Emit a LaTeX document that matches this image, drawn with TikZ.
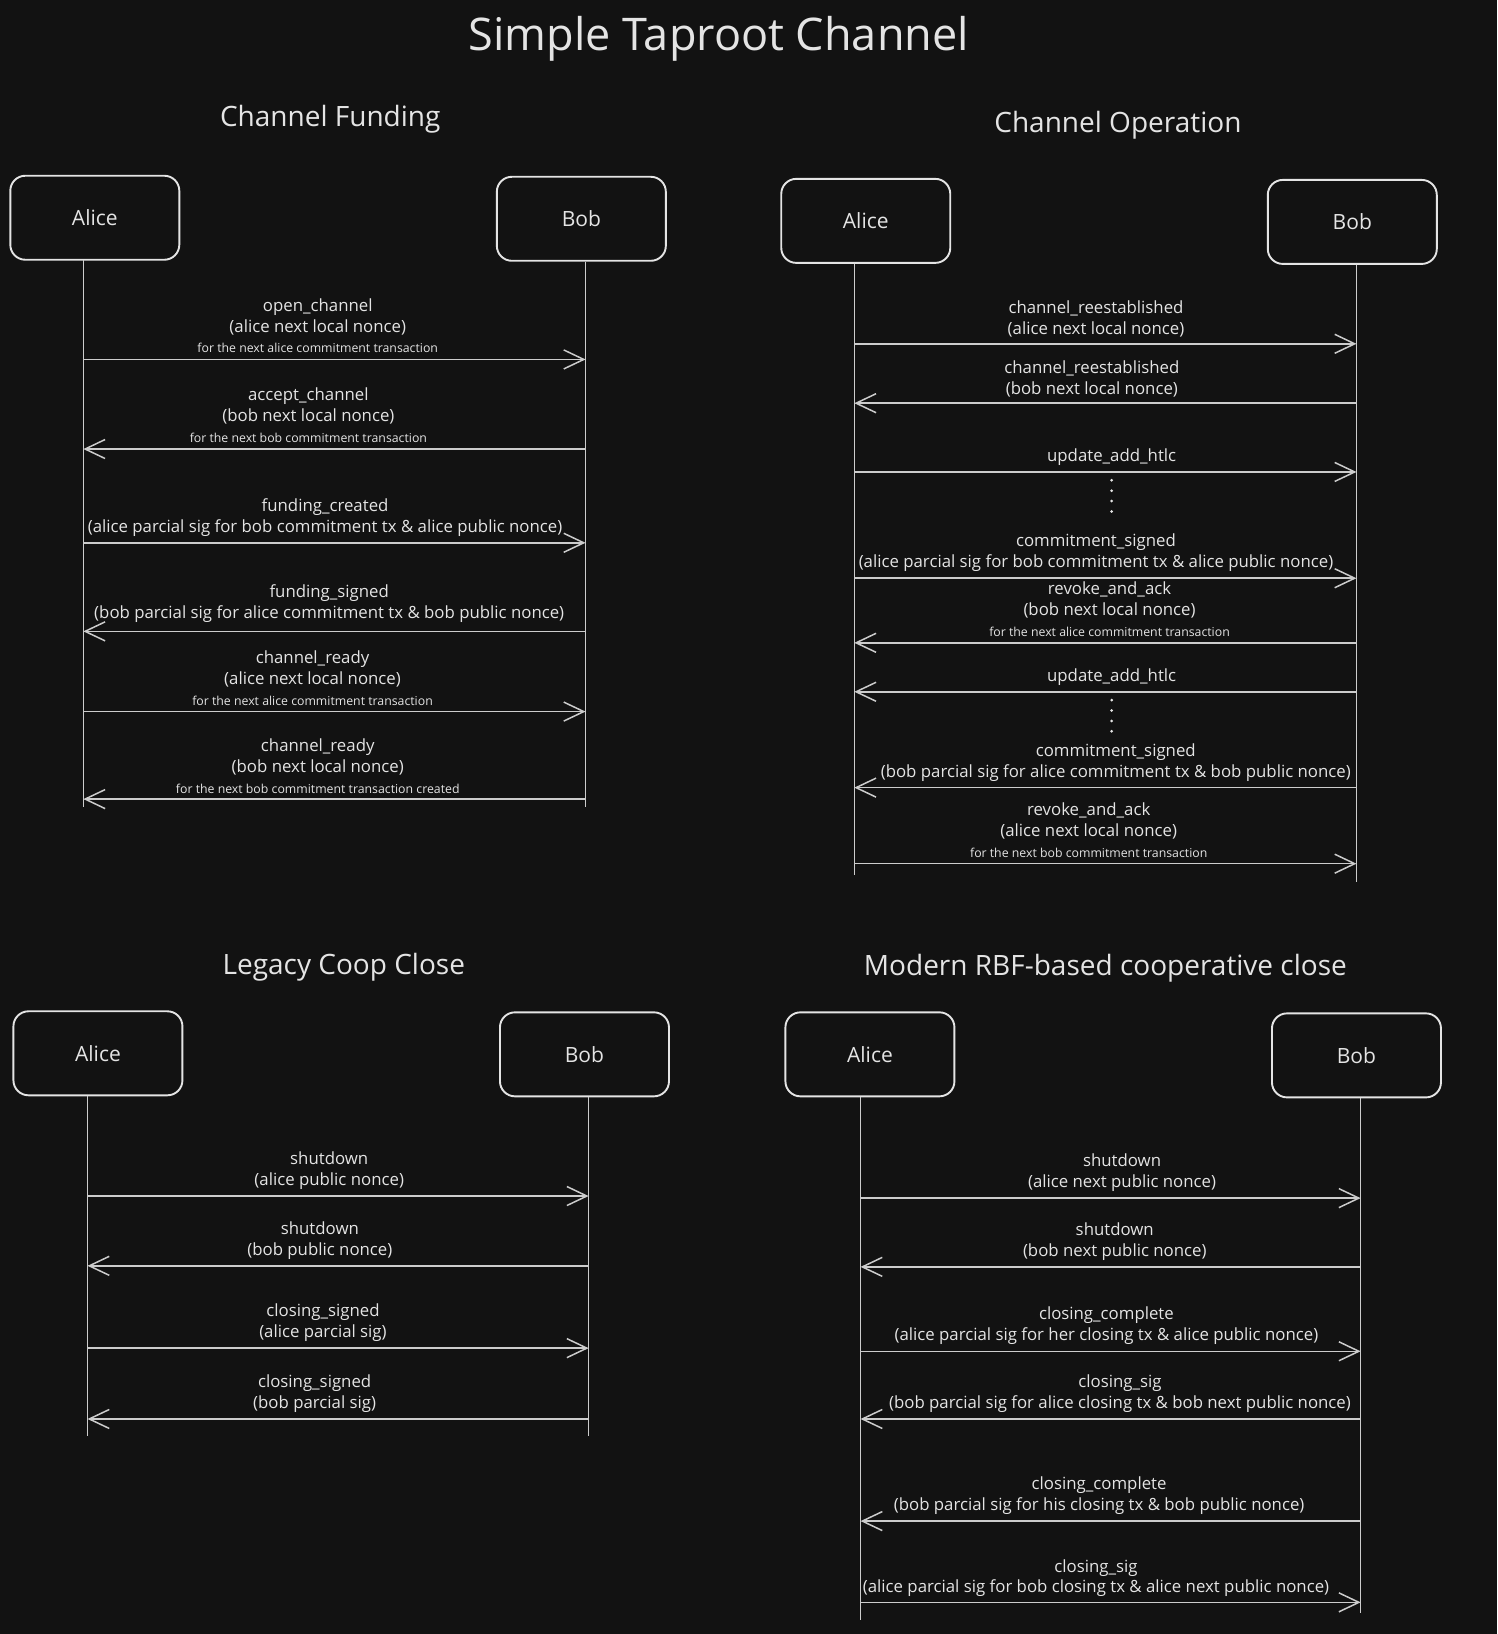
\documentclass[tikz,border=0pt]{standalone}
\usepackage{fontspec}
\setmainfont{Open Sans}
\usetikzlibrary{arrows.meta}
\definecolor{bg}{HTML}{121212}
\definecolor{ink}{HTML}{E4E4E4}
\definecolor{wire}{HTML}{CCCCCC}
\newcommand{\smallnote}[1]{{\fontsize{12.3}{14}\selectfont #1}}
\tikzset{
  headline/.style={text=ink, font=\fontsize{45}{54}\selectfont},
  sectitle/.style={text=ink, font=\fontsize{28}{34}\selectfont},
  actor/.style={draw=ink, line width=1.9pt, rounded corners=15pt, minimum width=169pt, minimum height=84pt, text=ink, font=\fontsize{21}{25}\selectfont},
  lifeline/.style={draw=wire, line width=1.1pt},
  msg/.style={draw=wire, line width=1.5pt, -{Straight Barb[length=20pt,width=19pt]}},
  msgtext/.style={text=ink, align=center, inner sep=0pt, anchor=south, font=\fontsize{16.8}{20.8}\selectfont},
  dots/.style={draw=ink, line width=3pt, line cap=round, dash pattern=on 0pt off 10.4pt}
}
\begin{document}
\begin{tikzpicture}[x=1.0418pt,y=-1.0418pt]
\fill[bg] (0,0) rectangle (1437,1568.4);
\useasboundingbox (0,0) rectangle (1437,1568.4);
\node[headline] (title) at (690,37) {Simple Taproot Channel};

% channel funding
\node[sectitle] (fTitle) at (317,114) {Channel Funding};
\node[actor] (fAlice) at (91,209) {Alice};
\node[actor] (fBob) at (558,210) {Bob};
\coordinate (fA) at (80,250);
\coordinate (fAend) at (80,775);
\coordinate (fB) at (562,251);
\coordinate (fBend) at (562,775);
\draw[lifeline] (fA) -- (fAend);
\draw[lifeline] (fB) -- (fBend);
\node[msgtext] (f1) at (305,339) {open\_channel\\(alice next local nonce)\\\smallnote{for the next alice commitment transaction}};
\draw[msg] (fA |- 0,345) -- (fB |- 0,345);
\node[msgtext] (f2) at (296,425) {accept\_channel\\(bob next local nonce)\\\smallnote{for the next bob commitment transaction}};
\draw[msg] (fB |- 0,431) -- (fA |- 0,431);
\node[msgtext] (f3) at (312,515) {funding\_created\\(alice parcial sig for bob commitment tx \& alice public nonce)};
\draw[msg] (fA |- 0,521) -- (fB |- 0,521);
\node[msgtext] (f4) at (316,598) {funding\_signed\\(bob parcial sig for alice commitment tx \& bob public nonce)};
\draw[msg] (fB |- 0,606) -- (fA |- 0,606);
\node[msgtext] (f5) at (300,677) {channel\_ready\\(alice next local nonce)\\\smallnote{for the next alice commitment transaction}};
\draw[msg] (fA |- 0,683) -- (fB |- 0,683);
\node[msgtext] (f6) at (305,762) {channel\_ready\\(bob next local nonce)\\\smallnote{for the next bob commitment transaction created}};
\draw[msg] (fB |- 0,767) -- (fA |- 0,767);

% channel operation
\node[sectitle] (oTitle) at (1073,120) {Channel Operation};
\node[actor] (oAlice) at (831,212) {Alice};
\node[actor] (oBob) at (1298,213) {Bob};
\coordinate (oA) at (820,253);
\coordinate (oAend) at (820,840);
\coordinate (oB) at (1302,254);
\coordinate (oBend) at (1302,847);
\draw[lifeline] (oA) -- (oAend);
\draw[lifeline] (oB) -- (oBend);
\node[msgtext] (o1) at (1052,324) {channel\_reestablished\\(alice next local nonce)};
\draw[msg] (oA |- 0,330) -- (oB |- 0,330);
\node[msgtext] (o2) at (1048,381) {channel\_reestablished\\(bob next local nonce)};
\draw[msg] (oB |- 0,387) -- (oA |- 0,387);
\node[msgtext] (o3) at (1067,447) {update\_add\_htlc};
\draw[msg] (oA |- 0,453) -- (oB |- 0,453);
\draw[dots] (o3.south) ++(0,14) -- ++(0,30);
\node[msgtext] (o4) at (1052,549) {commitment\_signed\\(alice parcial sig for bob commitment tx \& alice public nonce)};
\draw[msg] (oA |- 0,555) -- (oB |- 0,555);
\node[msgtext] (o5) at (1065,611) {revoke\_and\_ack\\(bob next local nonce)\\\smallnote{for the next alice commitment transaction}};
\draw[msg] (oB |- 0,617) -- (oA |- 0,617);
\node[msgtext] (o6) at (1067,658) {update\_add\_htlc};
\draw[msg] (oB |- 0,664) -- (oA |- 0,664);
\draw[dots] (o6.south) ++(0,14) -- ++(0,30);
\node[msgtext] (o7) at (1071,750) {commitment\_signed\\(bob parcial sig for alice commitment tx \& bob public nonce)};
\draw[msg] (oB |- 0,756) -- (oA |- 0,756);
\node[msgtext] (o8) at (1045,823) {revoke\_and\_ack\\(alice next local nonce)\\\smallnote{for the next bob commitment transaction}};
\draw[msg] (oA |- 0,829) -- (oB |- 0,829);

% legacy coop close
\node[sectitle] (lTitle) at (330,928) {Legacy Coop Close};
\node[actor] (lAlice) at (94,1011) {Alice};
\node[actor] (lBob) at (561,1012) {Bob};
\coordinate (lA) at (84,1052);
\coordinate (lAend) at (84,1378);
\coordinate (lB) at (565,1053);
\coordinate (lBend) at (565,1378);
\draw[lifeline] (lA) -- (lAend);
\draw[lifeline] (lB) -- (lBend);
\node[msgtext] (l1) at (316,1142) {shutdown\\(alice public nonce)};
\draw[msg] (lA |- 0,1148) -- (lB |- 0,1148);
\node[msgtext] (l2) at (307,1209) {shutdown\\(bob public nonce)};
\draw[msg] (lB |- 0,1215) -- (lA |- 0,1215);
\node[msgtext] (l3) at (310,1288) {closing\_signed\\(alice parcial sig)};
\draw[msg] (lA |- 0,1294) -- (lB |- 0,1294);
\node[msgtext] (l4) at (302,1356) {closing\_signed\\(bob parcial sig)};
\draw[msg] (lB |- 0,1362) -- (lA |- 0,1362);

% modern rbf close
\node[sectitle] (mTitle) at (1061,929) {Modern RBF-based cooperative close};
\node[actor] (mAlice) at (835,1012) {Alice};
\node[actor] (mBob) at (1302,1013) {Bob};
\coordinate (mA) at (826,1053);
\coordinate (mAend) at (826,1555);
\coordinate (mB) at (1306,1054);
\coordinate (mBend) at (1306,1548);
\draw[lifeline] (mA) -- (mAend);
\draw[lifeline] (mB) -- (mBend);
\node[msgtext] (m1) at (1077,1144) {shutdown\\(alice next public nonce)};
\draw[msg] (mA |- 0,1150) -- (mB |- 0,1150);
\node[msgtext] (m2) at (1070,1210) {shutdown\\(bob next public nonce)};
\draw[msg] (mB |- 0,1216) -- (mA |- 0,1216);
\node[msgtext] (m3) at (1062,1291) {closing\_complete\\(alice parcial sig for her closing tx \& alice public nonce)};
\draw[msg] (mA |- 0,1297) -- (mB |- 0,1297);
\node[msgtext] (m4) at (1075,1356) {closing\_sig\\(bob parcial sig for alice closing tx \& bob next public nonce)};
\draw[msg] (mB |- 0,1362) -- (mA |- 0,1362);
\node[msgtext] (m5) at (1055,1454) {closing\_complete\\(bob parcial sig for his closing tx \& bob public nonce)};
\draw[msg] (mB |- 0,1460) -- (mA |- 0,1460);
\node[msgtext] (m6) at (1052,1533) {closing\_sig\\(alice parcial sig for bob closing tx \& alice next public nonce)};
\draw[msg] (mA |- 0,1538) -- (mB |- 0,1538);
\end{tikzpicture}
\end{document}
